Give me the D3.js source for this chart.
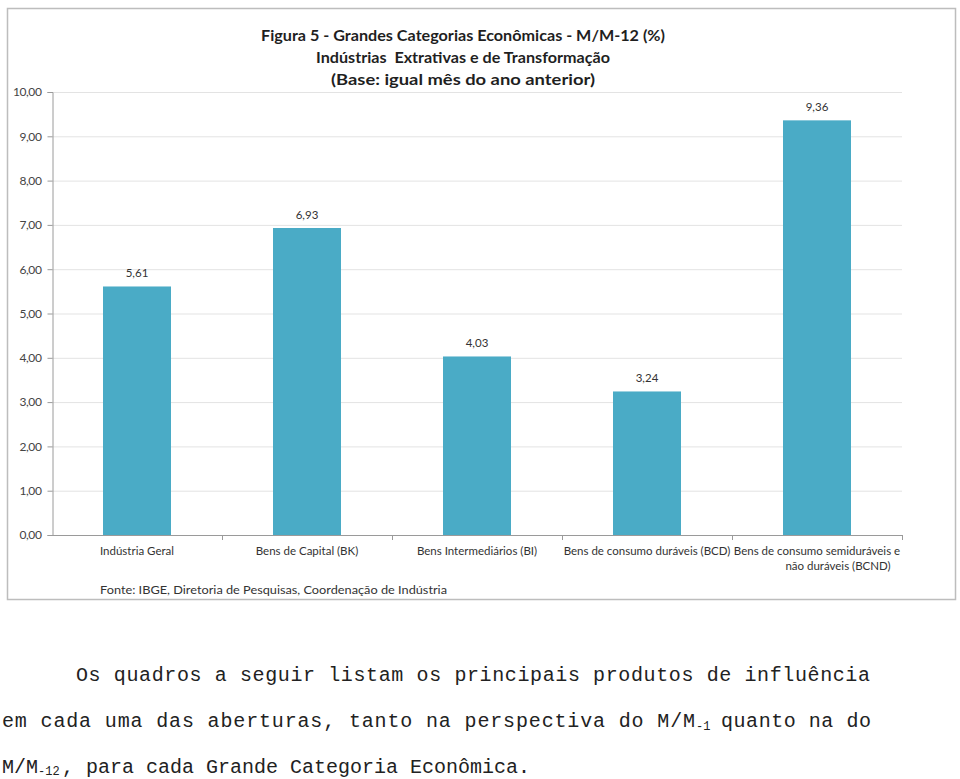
<!DOCTYPE html>
<html><head><meta charset="utf-8">
<script src="https://cdn.jsdelivr.net/npm/d3@7"></script>
<style>
html,body{margin:0;padding:0;background:#fff;}
svg{display:block;}
</style></head>
<body>
<svg id="c" width="960" height="779"></svg>
<script>
const categories = ["Indústria Geral","Bens de Capital (BK)","Bens Intermediários (BI)","Bens de consumo duráveis (BCD)","Bens de consumo semiduráveis e|não duráveis (BCND)"];
const values = [5.61, 6.93, 4.03, 3.24, 9.36];
const yTicks = [0,1,2,3,4,5,6,7,8,9,10];
const titleLines = ["Figura 5 - Grandes Categorias Econômicas - M/M-12 (%)","Indústrias  Extrativas e de Transformação","(Base: igual mês do ano anterior)"];
const source = "Fonte: IBGE, Diretoria de Pesquisas, Coordenação de Indústria";

const svg = d3.select("#c");
const F = "Lato, 'Open Sans', sans-serif";
const fmt = v => d3.format(".2f")(v).replace(".", ",");

// frame
svg.append("rect").attr("x",7.5).attr("y",8.5).attr("width",948).attr("height",591)
  .attr("fill","#fff").attr("stroke","#bdbdbd").attr("stroke-width",1.5);

// title
const tw = [404, 294, 264];
const ty = [41, 63, 85];
titleLines.forEach((t,i)=>{
  svg.append("text").attr("x",463).attr("y",ty[i]).attr("text-anchor","middle")
    .attr("font-family",F).attr("font-weight","bold").attr("font-size",15)
    .attr("fill","#1f1f1f").attr("textLength",tw[i]).attr("lengthAdjust","spacingAndGlyphs")
    .style("white-space","pre").text(t);
});

const x = d3.scaleBand().domain(categories).range([52,902]).paddingInner(0.6).paddingOuter(0.3);
const y = d3.scaleLinear().domain([0,10]).range([535,92]);

// gridlines
svg.append("g").selectAll("line").data(yTicks.slice(1)).join("line")
  .attr("x1",52).attr("x2",902).attr("y1",d=>y(d)+0.5).attr("y2",d=>y(d)+0.5)
  .attr("stroke","#e3e3e3").attr("stroke-width",1);

// y axis
const ya = svg.append("g").attr("transform","translate(52.5,0)")
  .call(d3.axisLeft(y).tickValues(yTicks).tickSize(5).tickPadding(6).tickFormat(fmt));
ya.select(".domain").attr("stroke","#9a9a9a");
ya.selectAll(".tick line").attr("stroke","#9a9a9a");
ya.selectAll("text").attr("font-family",F).attr("font-size",12).attr("fill","#444").attr("letter-spacing","-0.4px");

// bars
svg.append("g").selectAll("rect").data(values).join("rect")
  .attr("x",(d,i)=>x(categories[i])).attr("width",x.bandwidth())
  .attr("y",d=>y(d)).attr("height",d=>y(0)-y(d)).attr("fill","#4aabc6");

// value labels
svg.append("g").selectAll("text").data(values).join("text")
  .attr("x",(d,i)=>x(categories[i])+x.bandwidth()/2).attr("y",d=>y(d)-9)
  .attr("text-anchor","middle").attr("font-family",F).attr("font-size",11.5).attr("fill","#333")
  .text(fmt);

// x axis
const xb = d3.scaleLinear().domain([0,5]).range([52,902]);
const xa = svg.append("g");
xa.append("line").attr("x1",52).attr("x2",902).attr("y1",535.5).attr("y2",535.5).attr("stroke","#9a9a9a");
xa.selectAll("line.t").data(d3.range(1,6)).join("line").attr("class","t")
  .attr("x1",d=>xb(d)+0.5).attr("x2",d=>xb(d)+0.5).attr("y1",535).attr("y2",540).attr("stroke","#9a9a9a");

categories.forEach((c,i)=>{
  const parts = c.split("|");
  const t = svg.append("text").attr("text-anchor","middle").attr("font-family",F).attr("font-size",11.5).attr("fill","#333");
  parts.forEach((p,j)=>{
    t.append("tspan").attr("x", j===0 ? x(c)+x.bandwidth()/2 : 838).attr("y",555+j*15).text(p);
  });
});

// source
svg.append("text").attr("x",100).attr("y",594).attr("font-family",F).attr("font-size",11.5).attr("fill","#333")
  .attr("textLength",347).attr("lengthAdjust","spacingAndGlyphs").text(source);

// body text
const M = "'Liberation Mono', 'Courier New', monospace";
const body = svg.append("g").attr("font-family",M).attr("font-size",20).attr("fill","#222");
body.append("text").attr("x",76).attr("y",681).attr("textLength",794).attr("lengthAdjust","spacing")
  .text("Os quadros a seguir listam os principais produtos de influência");
body.append("text").attr("x",2).attr("y",727).attr("textLength",693).attr("lengthAdjust","spacing")
  .text("em cada uma das aberturas, tanto na perspectiva do M/M");
body.append("text").attr("x",696).attr("y",730).attr("font-size",12).text("-1");
body.append("text").attr("x",721).attr("y",727).attr("textLength",150).attr("lengthAdjust","spacing")
  .text("quanto na do");
body.append("text").attr("x",2).attr("y",773).text("M/M");
body.append("text").attr("x",38).attr("y",775).attr("font-size",12).text("-12");
body.append("text").attr("x",62).attr("y",773).text(", para cada Grande Categoria Econômica.");
</script>
</body></html>
